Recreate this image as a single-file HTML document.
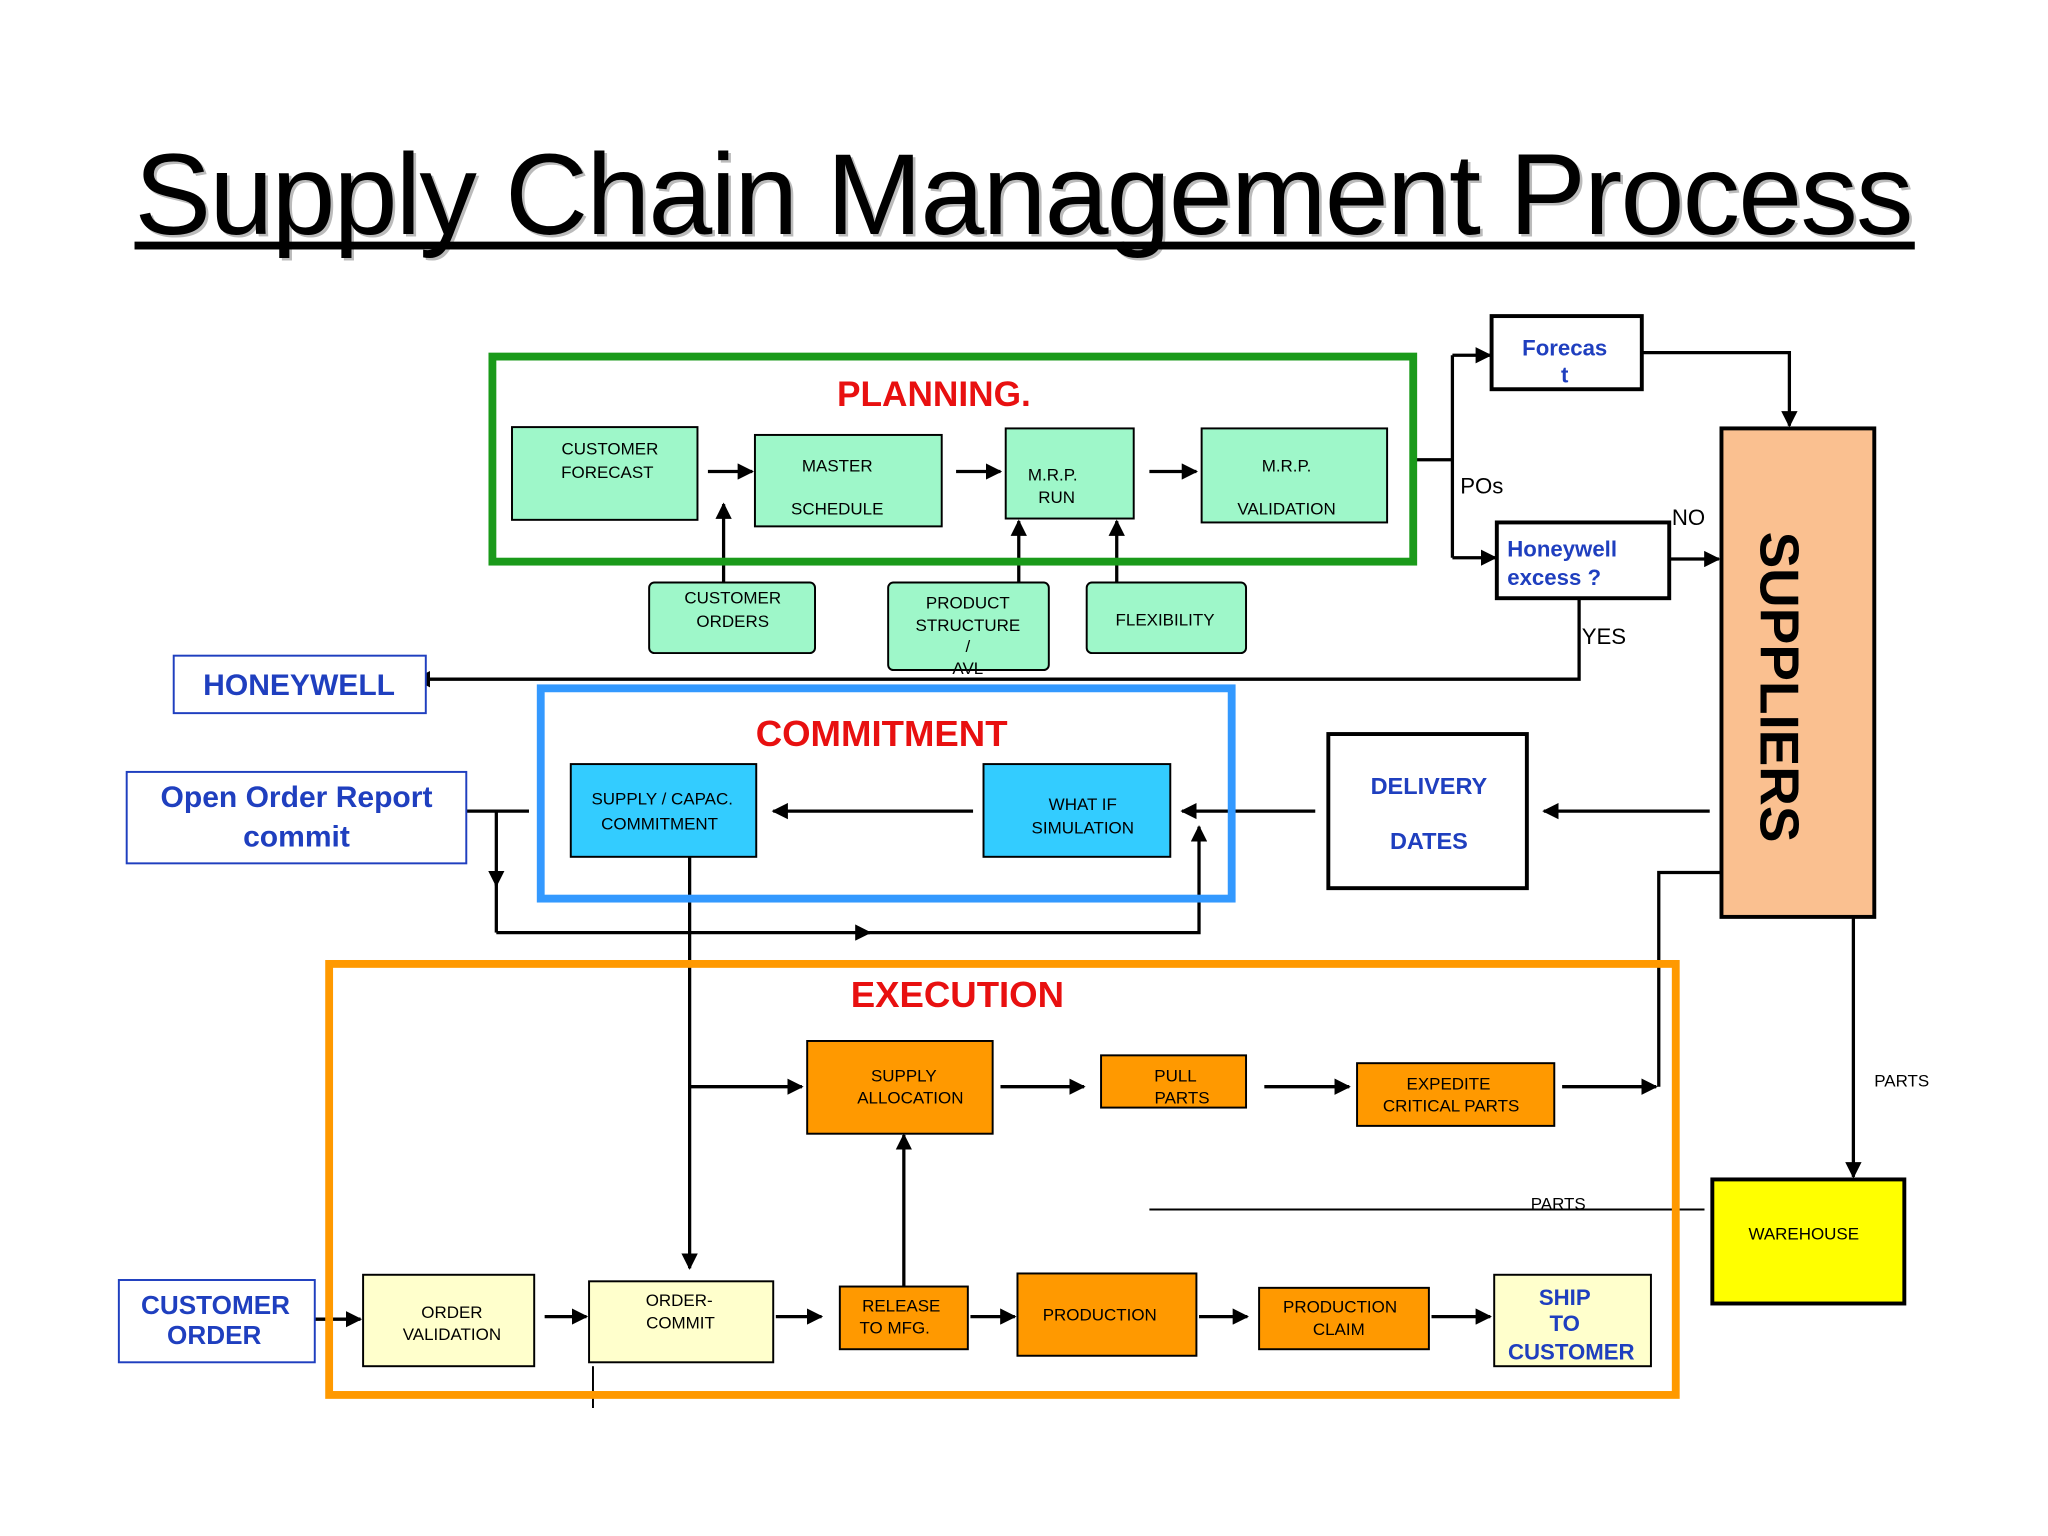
<!DOCTYPE html>
<html><head><meta charset="utf-8"><style>
html,body{margin:0;padding:0;background:#fff;}
svg{display:block;}
text{font-family:"Liberation Sans",sans-serif;}
</style></head><body>
<svg width="2048" height="1536" viewBox="0 0 1568 1176" preserveAspectRatio="none" xmlns="http://www.w3.org/2000/svg">
<defs>
<marker id="a" viewBox="0 0 10 10" refX="9" refY="5" markerWidth="5" markerHeight="5" orient="auto"><path d="M0,0L10,5L0,10z" fill="#000"/></marker>
</defs>
<rect width="1568" height="1176" fill="#fff"/>
<!-- title -->
<text x="786" y="181" font-size="88" text-anchor="middle" fill="#bbb" textLength="1362">Supply Chain Management Process</text>
<text x="784" y="179" font-size="88" text-anchor="middle" fill="#000" textLength="1362">Supply Chain Management Process</text>
<rect x="103" y="185" width="1363" height="6" fill="#000"/>

<g stroke="#000" stroke-width="2.5" fill="none">
<!-- planning arrows -->
<line x1="542" y1="361" x2="576" y2="361" marker-end="url(#a)"/>
<line x1="732" y1="361" x2="766" y2="361" marker-end="url(#a)"/>
<line x1="880" y1="361" x2="916" y2="361" marker-end="url(#a)"/>
<line x1="554" y1="446" x2="554" y2="386" marker-end="url(#a)"/>
<line x1="780" y1="446" x2="780" y2="399" marker-end="url(#a)"/>
<line x1="855" y1="446" x2="855" y2="399" marker-end="url(#a)"/>
<!-- right top -->
<polyline points="1082,352 1112,352"/>
<line x1="1112" y1="272" x2="1112" y2="427"/>
<line x1="1112" y1="272" x2="1141" y2="272" marker-end="url(#a)"/>
<line x1="1112" y1="427" x2="1145" y2="427" marker-end="url(#a)"/>
<polyline points="1257,270 1370,270 1370,326" marker-end="url(#a)"/>
<line x1="1278" y1="428" x2="1316" y2="428" marker-end="url(#a)"/>
<polyline points="1209,458 1209,520 318,520" marker-end="url(#a)"/>
<!-- commitment -->
<line x1="745" y1="621" x2="592" y2="621" marker-end="url(#a)"/>
<line x1="1007" y1="621" x2="905" y2="621" marker-end="url(#a)"/>
<line x1="1309" y1="621" x2="1182" y2="621" marker-end="url(#a)"/>
<line x1="405" y1="621" x2="318" y2="621" marker-end="url(#a)"/>
<line x1="380" y1="621" x2="380" y2="678" marker-end="url(#a)"/>
<line x1="380" y1="675" x2="380" y2="714"/>
<line x1="380" y1="714" x2="666" y2="714" marker-end="url(#a)"/>
<polyline points="660,714 918,714 918,633" marker-end="url(#a)"/>
<line x1="528" y1="656" x2="528" y2="971" marker-end="url(#a)"/>
<!-- execution -->
<line x1="528" y1="832" x2="614" y2="832" marker-end="url(#a)"/>
<line x1="766" y1="832" x2="830" y2="832" marker-end="url(#a)"/>
<line x1="968" y1="832" x2="1033" y2="832" marker-end="url(#a)"/>
<line x1="1196" y1="832" x2="1268" y2="832" marker-end="url(#a)"/>
<polyline points="1270,832 1270,668 1318,668"/>
<line x1="692" y1="985" x2="692" y2="869" marker-end="url(#a)"/>
<line x1="1419" y1="702" x2="1419" y2="901" marker-end="url(#a)"/>
<line x1="880" y1="926" x2="1305" y2="926" stroke-width="1.5"/>
<line x1="241" y1="1010" x2="276" y2="1010" marker-end="url(#a)"/>
<line x1="417" y1="1008" x2="449" y2="1008" marker-end="url(#a)"/>
<line x1="594" y1="1008" x2="629" y2="1008" marker-end="url(#a)"/>
<line x1="743" y1="1008" x2="777" y2="1008" marker-end="url(#a)"/>
<line x1="918" y1="1008" x2="955" y2="1008" marker-end="url(#a)"/>
<line x1="1096" y1="1008" x2="1141" y2="1008" marker-end="url(#a)"/>
<line x1="454" y1="1046" x2="454" y2="1078" stroke-width="1.5"/>
</g>

<!-- big frames -->
<rect x="377" y="273" width="705" height="157" fill="none" stroke="#1a9a1a" stroke-width="6"/>
<rect x="414" y="527" width="529" height="161" fill="none" stroke="#3399ff" stroke-width="6"/>
<rect x="252" y="738" width="1031" height="330" fill="none" stroke="#ff9900" stroke-width="6"/>

<g font-weight="bold" fill="#e81010" text-anchor="middle">
<text x="715" y="311" font-size="27">PLANNING.</text>
<text x="675" y="571" font-size="28">COMMITMENT</text>
<text x="733" y="771" font-size="28">EXECUTION</text>
</g>

<g stroke="#000" stroke-width="1.5">
<rect x="392" y="327" width="142" height="71" fill="#9ef7c9"/>
<rect x="578" y="333" width="143" height="70" fill="#9ef7c9"/>
<rect x="770" y="328" width="98" height="69" fill="#9ef7c9"/>
<rect x="920" y="328" width="142" height="72" fill="#9ef7c9"/>
<rect x="497" y="446" width="127" height="54" rx="4" fill="#9ef7c9"/>
<rect x="680" y="446" width="123" height="67" rx="4" fill="#9ef7c9"/>
<rect x="832" y="446" width="122" height="54" rx="4" fill="#9ef7c9"/>
<rect x="437" y="585" width="142" height="71" fill="#33ccff"/>
<rect x="753" y="585" width="143" height="71" fill="#33ccff"/>
<rect x="618" y="797" width="142" height="71" fill="#ff9900"/>
<rect x="843" y="808" width="111" height="40" fill="#ff9900"/>
<rect x="1039" y="814" width="151" height="48" fill="#ff9900"/>
<rect x="278" y="976" width="131" height="70" fill="#ffffcc"/>
<rect x="451" y="981" width="141" height="62" fill="#ffffcc"/>
<rect x="643" y="985" width="98" height="48" fill="#ff9900"/>
<rect x="779" y="975" width="137" height="63" fill="#ff9900"/>
<rect x="964" y="986" width="130" height="47" fill="#ff9900"/>
<rect x="1144" y="976" width="120" height="70" fill="#ffffcc"/>
</g>
<g stroke="#000" stroke-width="3" fill="#fff">
<rect x="1142" y="242" width="115" height="56"/>
<rect x="1146" y="400" width="132" height="58"/>
<rect x="1017" y="562" width="152" height="118"/>
<rect x="1318" y="328" width="117" height="374" fill="#fac090"/>
<rect x="1311" y="903" width="147" height="95" fill="#ffff00"/>
</g>
<g stroke="#1f3fbf" stroke-width="1.5" fill="#fff">
<rect x="133" y="502" width="193" height="44"/>
<rect x="97" y="591" width="260" height="70"/>
<rect x="91" y="980" width="150" height="63"/>
</g>

<g font-size="13" fill="#000" text-anchor="middle">
<text x="467" y="348">CUSTOMER</text><text x="465" y="366">FORECAST</text>
<text x="641" y="361">MASTER</text><text x="641" y="394">SCHEDULE</text>
<text x="806" y="368">M.R.P.</text><text x="809" y="385">RUN</text>
<text x="985" y="361">M.R.P.</text><text x="985" y="394">VALIDATION</text>
<text x="561" y="462">CUSTOMER</text><text x="561" y="480">ORDERS</text>
<text x="741" y="466">PRODUCT</text><text x="741" y="483">STRUCTURE</text><text x="741" y="499">/</text><text x="741" y="516">AVL</text>
<text x="892" y="479">FLEXIBILITY</text>
<text x="507" y="616">SUPPLY / CAPAC.</text><text x="505" y="635">COMMITMENT</text>
<text x="829" y="620">WHAT IF</text><text x="829" y="638">SIMULATION</text>
<text x="692" y="828">SUPPLY</text><text x="697" y="845">ALLOCATION</text>
<text x="900" y="828">PULL</text><text x="905" y="845">PARTS</text>
<text x="1109" y="834">EXPEDITE</text><text x="1111" y="851">CRITICAL PARTS</text>
<text x="346" y="1009">ORDER</text><text x="346" y="1026">VALIDATION</text>
<text x="520" y="1000">ORDER-</text><text x="521" y="1017">COMMIT</text>
<text x="690" y="1004">RELEASE</text><text x="685" y="1021">TO MFG.</text>
<text x="842" y="1011">PRODUCTION</text>
<text x="1026" y="1005">PRODUCTION</text><text x="1025" y="1022">CLAIM</text>
<text x="1381" y="949">WAREHOUSE</text>
<text x="1456" y="832">PARTS</text>
<text x="1193" y="926">PARTS</text>
</g>
<g font-size="17" fill="#000">
<text x="1118" y="378">POs</text>
<text x="1280" y="402">NO</text>
<text x="1211" y="493">YES</text>
</g>
<g fill="#1f3fbf" font-weight="bold" text-anchor="middle">
<text x="1198" y="272" font-size="17">Forecas</text><text x="1198" y="293" font-size="17">t</text>
<text x="1154" y="426" font-size="17" text-anchor="start">Honeywell</text>
<text x="1154" y="448" font-size="17" text-anchor="start">excess ?</text>
<text x="1094" y="608" font-size="18">DELIVERY</text>
<text x="1094" y="650" font-size="18">DATES</text>
<text x="229" y="532" font-size="23">HONEYWELL</text>
<text x="227" y="618" font-size="23">Open Order Report</text>
<text x="227" y="648" font-size="23">commit</text>
<text x="165" y="1006" font-size="20">CUSTOMER</text>
<text x="164" y="1029" font-size="20">ORDER</text>
<text x="1198" y="999" font-size="17">SHIP</text>
<text x="1198" y="1019" font-size="17">TO</text>
<text x="1203" y="1041" font-size="17">CUSTOMER</text>
</g>
<text x="0" y="0" font-size="42" font-weight="bold" fill="#000" text-anchor="middle" transform="translate(1348,526) rotate(90)">SUPPLIERS</text>
</svg>
</body></html>
